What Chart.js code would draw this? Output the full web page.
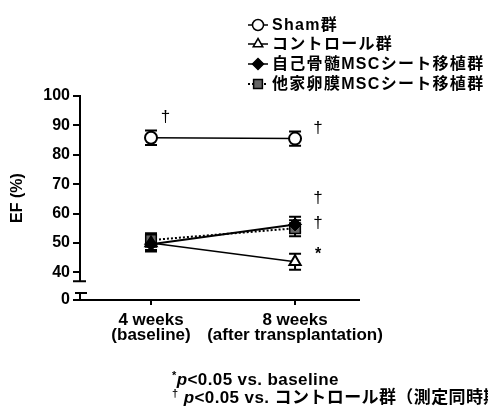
<!DOCTYPE html>
<html>
<head>
<meta charset="utf-8">
<script src="https://cdn.jsdelivr.net/npm/chart.js@4.4.1/dist/chart.umd.min.js"></script>
<style>
html, body { margin: 0; padding: 0; background: #fff; }
#wrap { position: relative; width: 488px; height: 409px; overflow: hidden; }
.note { position: absolute; left: 172px; font: bold 17px "Liberation Sans", "Noto Sans CJK JP", sans-serif; line-height: 18px; letter-spacing: 0.4px; white-space: nowrap; color: #000; }
.note sup { font-size: 11px; line-height: 0; vertical-align: 6px; }
</style>
</head>
<body>
<div id="wrap">
  <canvas id="efChart" width="488" height="409"></canvas>
  <div class="note" style="top:371px"><sup>*</sup><i>p</i>&lt;0.05 vs. baseline</div>
  <div class="note" style="top:389px"><sup>†</sup> <i>p</i>&lt;0.05 vs. コントロール群（測定同時期）</div>
</div>
<script>
// データ
const timePoints = ['4 weeks', '8 weeks'];
const timeSubLabels = ['(baseline)', '(after transplantation)'];
const seriesNames = ['Sham群', 'コントロール群', '自己骨髄MSCシート移植群', '他家卵膜MSCシート移植群'];

const shamEF = [85.8, 85.5];
const shamErr = [2.5, 2.4];
const controlEF = [50.0, 43.6];
const controlErr = [2.4, 2.7];
const autoMscEF = [49.6, 56.3];
const autoMscErr = [2.5, 2.6];
const alloMscEF = [51.0, 55.0];
const alloMscErr = [2.3, 2.7];

const yTicks = [40, 50, 60, 70, 80, 90, 100];

// 有意差マーク
const sigText = ['†', '†', '†', '†', '*'];
const sigX = [0.1, 1.16, 1.16, 1.16, 1.16];
const sigY = [92.6, 89.0, 65.3, 56.8, 46.2];

// 軸の省略（0〜40の間）
const Y_FLOOR = 30.6;     // "0" を置く位置
const BREAK_TOP = 37.0;
const BREAK_BOTTOM = 33.0;

const FONT = '"Liberation Sans", "Noto Sans CJK JP", sans-serif';

function toPoints(arr) {
    return arr.map((v, i) => ({ x: i, y: v }));
}

// マーカー描画（凡例用）
function drawMarker(ctx, style, x, y, r, fill) {
    ctx.beginPath();
    if (style === 'circle') {
        ctx.arc(x, y, r, 0, Math.PI * 2);
    } else if (style === 'triangle') {
        ctx.moveTo(x, y - r);
        ctx.lineTo(x + r * 0.87, y + r * 0.5);
        ctx.lineTo(x - r * 0.87, y + r * 0.5);
        ctx.closePath();
    } else if (style === 'rectRot') {
        ctx.moveTo(x, y - r);
        ctx.lineTo(x + r, y);
        ctx.lineTo(x, y + r);
        ctx.lineTo(x - r, y);
        ctx.closePath();
    } else {
        ctx.rect(x - r * 0.8, y - r * 0.8, r * 1.6, r * 1.6);
    }
    ctx.fillStyle = fill;
    ctx.fill();
    ctx.lineWidth = 1.5;
    ctx.strokeStyle = '#000';
    ctx.stroke();
}

// エラーバー
const errorBarPlugin = {
    id: 'errorBars',
    beforeDatasetsDraw(chart) {
        const ctx = chart.ctx;
        const yScale = chart.scales.y;
        ctx.save();
        ctx.strokeStyle = '#000';
        ctx.lineWidth = 2;
        chart.data.datasets.forEach((ds, i) => {
            const meta = chart.getDatasetMeta(i);
            meta.data.forEach((pt, j) => {
                const v = ds.data[j].y;
                const e = ds.errors[j];
                const top = yScale.getPixelForValue(v + e);
                const bot = yScale.getPixelForValue(v - e);
                ctx.beginPath();
                ctx.moveTo(pt.x, top);
                ctx.lineTo(pt.x, bot);
                ctx.moveTo(pt.x - 6, top);
                ctx.lineTo(pt.x + 6, top);
                ctx.moveTo(pt.x - 6, bot);
                ctx.lineTo(pt.x + 6, bot);
                ctx.stroke();
            });
        });
        ctx.restore();
    }
};

// 省略記号付きのY軸
const brokenAxisPlugin = {
    id: 'brokenAxis',
    afterDraw(chart) {
        const ctx = chart.ctx;
        const y = chart.scales.y;
        const left = chart.chartArea.left;
        const yTop = y.getPixelForValue(100);
        const yBreakTop = y.getPixelForValue(BREAK_TOP);
        const yBreakBottom = y.getPixelForValue(BREAK_BOTTOM);
        const yBottom = chart.chartArea.bottom;
        ctx.save();
        ctx.strokeStyle = '#000';
        ctx.lineWidth = 2;
        ctx.beginPath();
        ctx.moveTo(left, yTop - 1);
        ctx.lineTo(left, yBreakTop);
        ctx.moveTo(left - 7, yBreakTop);
        ctx.lineTo(left + 6, yBreakTop);
        ctx.moveTo(left - 5, yBreakBottom);
        ctx.lineTo(left + 7, yBreakBottom);
        ctx.moveTo(left, yBreakBottom);
        ctx.lineTo(left, yBottom);
        ctx.stroke();
        ctx.restore();
    }
};

// 有意差マーク
const sigPlugin = {
    id: 'sigMarks',
    afterDatasetsDraw(chart) {
        const ctx = chart.ctx;
        const xs = chart.scales.x;
        const ys = chart.scales.y;
        ctx.save();
        ctx.fillStyle = '#000';
        ctx.textAlign = 'center';
        ctx.textBaseline = 'middle';
        sigText.forEach((t, i) => {
            ctx.font = (t === '*' ? 'bold 16px ' : '17px ') + FONT;
            ctx.fillText(t, xs.getPixelForValue(sigX[i]), ys.getPixelForValue(sigY[i]));
        });
        ctx.restore();
    }
};

// 凡例（右上、縦並び）
const legendPlugin = {
    id: 'customLegend',
    afterDraw(chart) {
        const ctx = chart.ctx;
        const rows = [25, 44, 64, 84];
        ctx.save();
        chart.data.datasets.forEach((ds, i) => {
            const y = rows[i];
            ctx.strokeStyle = '#000';
            ctx.lineWidth = ds.borderDash ? 2 : 1.5;
            ctx.setLineDash(ds.borderDash || []);
            ctx.beginPath();
            ctx.moveTo(248, y);
            ctx.lineTo(268, y);
            ctx.stroke();
            ctx.setLineDash([]);
            drawMarker(ctx, ds.pointStyle, 258, y, 5.5, ds.pointBackgroundColor);
            ctx.fillStyle = '#000';
            ctx.font = 'bold 16px ' + FONT;
            ctx.letterSpacing = '1.3px';
            ctx.textAlign = 'left';
            ctx.textBaseline = 'middle';
            ctx.fillText(ds.label, 272, y + 1);
            ctx.letterSpacing = '0px';
        });
        ctx.restore();
    }
};

const ctx = document.getElementById('efChart').getContext('2d');
new Chart(ctx, {
    type: 'line',
    data: {
        datasets: [
            {
                label: seriesNames[0],
                data: toPoints(shamEF),
                errors: shamErr,
                borderColor: '#000',
                borderWidth: 1.5,
                pointStyle: 'circle',
                pointRadius: 6,
                pointBackgroundColor: '#fff',
                pointBorderColor: '#000',
                pointBorderWidth: 2,
                order: 0
            },
            {
                label: seriesNames[1],
                data: toPoints(controlEF),
                errors: controlErr,
                borderColor: '#000',
                borderWidth: 1.5,
                pointStyle: 'triangle',
                pointRadius: 6.5,
                pointBackgroundColor: '#fff',
                pointBorderColor: '#000',
                pointBorderWidth: 2,
                order: 2
            },
            {
                label: seriesNames[2],
                data: toPoints(autoMscEF),
                errors: autoMscErr,
                borderColor: '#000',
                borderWidth: 2,
                pointStyle: 'rectRot',
                pointRadius: 6.5,
                pointBackgroundColor: '#000',
                pointBorderColor: '#000',
                pointBorderWidth: 1,
                order: 1
            },
            {
                label: seriesNames[3],
                data: toPoints(alloMscEF),
                errors: alloMscErr,
                borderColor: '#000',
                borderWidth: 2,
                borderDash: [2, 2],
                pointStyle: 'rect',
                pointRadius: 7.5,
                pointBackgroundColor: '#666',
                pointBorderColor: '#000',
                pointBorderWidth: 1.5,
                order: 3
            }
        ]
    },
    options: {
        responsive: false,
        animation: false,
        layout: { padding: { top: 96, right: 129, left: 0, bottom: 0 } },
        plugins: {
            legend: { display: false },
            tooltip: { enabled: false }
        },
        scales: {
            x: {
                type: 'linear',
                min: -0.493,
                max: 1.444,
                afterBuildTicks: s => { s.ticks = [{ value: 0 }, { value: 1 }]; },
                afterFit: s => { s.height = 109; },
                ticks: {
                    callback: v => [timePoints[v], timeSubLabels[v]],
                    autoSkip: false,
                    maxRotation: 0,
                    padding: 7,
                    color: '#000',
                    font: { family: FONT, size: 17, weight: 'bold', lineHeight: 0.92 }
                },
                grid: { drawOnChartArea: false, tickLength: 5, lineWidth: 2, color: '#000' },
                border: { display: true, width: 2, color: '#000' }
            },
            y: {
                min: Y_FLOOR,
                max: 100,
                afterBuildTicks: s => { s.ticks = [Y_FLOOR].concat(yTicks).map(v => ({ value: v })); },
                afterFit: s => { s.width = 80; },
                ticks: {
                    callback: v => (v === Y_FLOOR ? '0' : v),
                    padding: 3,
                    color: '#000',
                    font: { family: FONT, size: 16, weight: 'bold' }
                },
                grid: { drawOnChartArea: false, tickLength: 7, lineWidth: 2, color: '#000' },
                border: { display: false },
                title: {
                    display: true,
                    text: 'EF (%)',
                    color: '#000',
                    padding: { top: 8, bottom: 0 },
                    font: { family: FONT, size: 16, weight: 'bold' }
                }
            }
        }
    },
    plugins: [errorBarPlugin, brokenAxisPlugin, sigPlugin, legendPlugin]
});
</script>
</body>
</html>
